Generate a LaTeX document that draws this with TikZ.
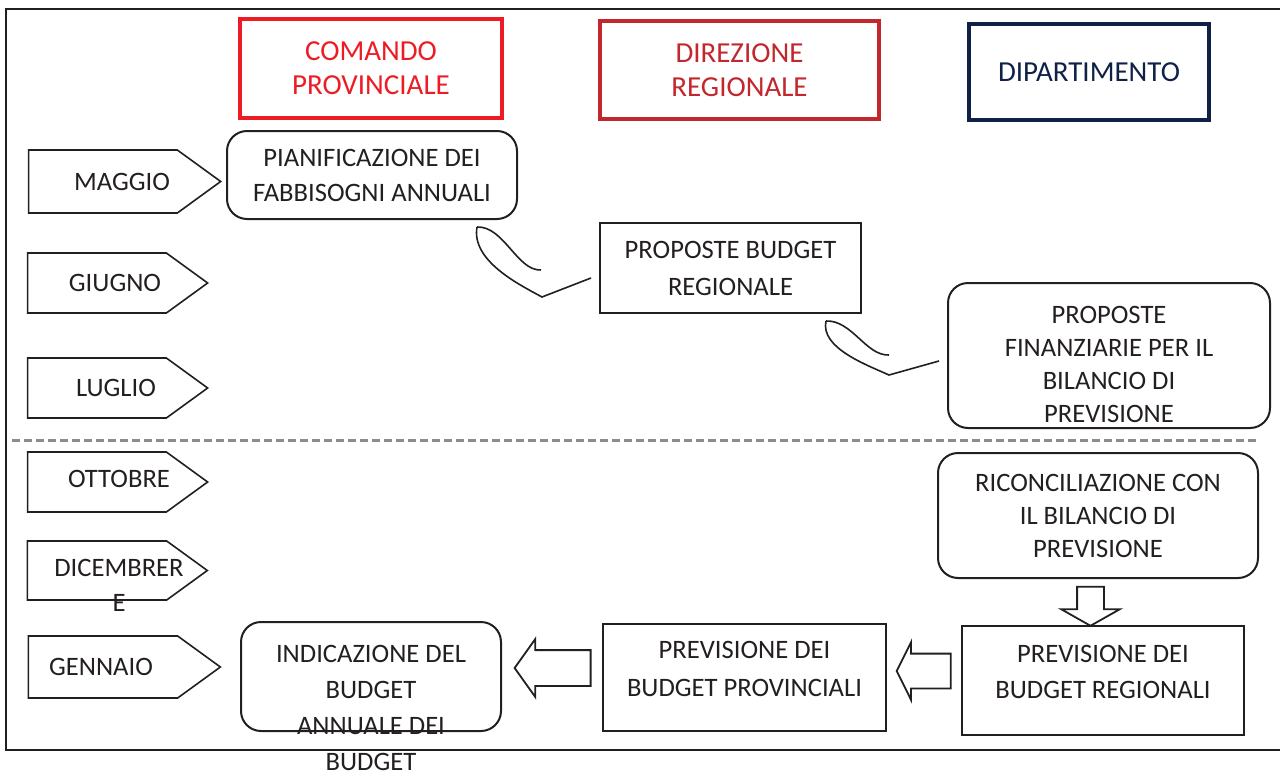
\documentclass[tikz,border=0pt]{standalone}
\usepackage{fontspec}
\setmainfont{Carlito}
\usetikzlibrary{shapes.symbols,shapes.arrows}
\definecolor{comandored}{HTML}{ED1C24}
\definecolor{direzred}{HTML}{C1272D}
\definecolor{dipblue}{HTML}{0F2147}
\definecolor{testo}{HTML}{231F20}
\definecolor{lineagrigia}{HTML}{8C8C8C}

\begin{document}
\begin{tikzpicture}[x=0.5pt,y=-0.5pt]
    \tikzset{header/.style = {draw, line width=2pt, align=center, inner sep=0pt, font=\fontsize{14.5}{17}\selectfont}}
    \tikzset{box/.style = {draw=testo, line width=1pt, text=testo, align=center, inner sep=0pt, font=\fontsize{13.3}{17.5}\selectfont}}
    \tikzset{roundbox/.style = {box, rounded corners=10pt}}
    \tikzset{boxtext/.style = {inner sep=0pt, text=testo, align=center, font=\fontsize{13.3}{17.5}\selectfont}}
    \tikzset{mese/.style = {shape=signal, signal to=east, signal pointer angle=72, draw=testo, line width=0.8pt, inner sep=0pt}}
    \tikzset{blockarrow/.style = {shape=single arrow, draw=testo, line width=0.9pt, text height=0pt, text depth=0pt}}
    \useasboundingbox (0,0) rectangle (1280,776);
    % frame and separator
    \draw[testo, line width=1.2pt] (1280,9) -- (6,9) -- (6,750) -- (1280,750);
    \draw[lineagrigia, line width=1.5pt, dash pattern=on 4pt off 2pt] (12,440) -- (1258,440);
    % headers
    \node[header, draw=comandored, text=comandored, minimum width=131pt, minimum height=49.5pt] (cp) at (371,68.5) {COMANDO\\PROVINCIALE};
    \node[header, draw=direzred, text=direzred, minimum width=139.5pt, minimum height=49pt] (dr) at (739.5,70) {DIREZIONE\\REGIONALE};
    \node[header, draw=dipblue, text=dipblue, minimum width=120pt, minimum height=48pt] (dip) at (1089,72) {DIPARTIMENTO};
    % months
    \node[mese, minimum width=96pt, minimum height=31.5pt, label={[boxtext, xshift=9.5pt]center:MAGGIO}] (mag) at (103,181.5) {};
    \node[mese, minimum width=90pt, minimum height=30pt, label={[boxtext, xshift=9pt]center:GIUGNO}] (giu) at (97,283) {};
    \node[mese, minimum width=90pt, minimum height=30pt, label={[boxtext, xshift=9.5pt]center:LUGLIO}] (lug) at (97,388) {};
    \node[mese, minimum width=90pt, minimum height=30pt, label={[boxtext, xshift=11pt, yshift=1.5pt]center:OTTOBRE}] (ott) at (97,482) {};
    \node[mese, minimum width=90pt, minimum height=29.5pt, label={[boxtext, xshift=11pt, yshift=-7.5pt]center:DICEMBRER\\E}] (dic) at (97,570.5) {};
    \node[mese, minimum width=96pt, minimum height=31pt, label={[boxtext, xshift=-1pt]center:GENNAIO}] (gen) at (103,667) {};
    % activities
    \node[roundbox, minimum width=145pt, minimum height=44pt] (pian) at (372,175) {PIANIFICAZIONE DEI\\FABBISOGNI ANNUALI};
    \node[box, minimum width=130.5pt, minimum height=45pt, font=\fontsize{13.3}{18.5}\selectfont] (propreg) at (730.5,268) {PROPOSTE BUDGET\\REGIONALE};
    \node[roundbox, minimum width=161pt, minimum height=72.5pt, label={[boxtext, yshift=-4.5pt, font=\fontsize{13.3}{16.5}\selectfont]center:PROPOSTE\\FINANZIARIE PER IL\\BILANCIO DI\\PREVISIONE}] (propfin) at (1109,355.5) {};
    \node[roundbox, minimum width=160pt, minimum height=62.5pt, font=\fontsize{13.3}{16.5}\selectfont] (ricon) at (1098,515.5) {RICONCILIAZIONE CON\\IL BILANCIO DI\\PREVISIONE};
    \node[box, minimum width=141pt, minimum height=54.5pt, label={[boxtext, yshift=4.5pt, font=\fontsize{13.3}{18}\selectfont]center:PREVISIONE DEI\\BUDGET REGIONALI}] (prevreg) at (1103,680.5) {};
    \node[box, minimum width=141.5pt, minimum height=53.5pt, label={[boxtext, yshift=4.5pt, font=\fontsize{13.3}{19}\selectfont]center:PREVISIONE DEI\\BUDGET PROVINCIALI}] (prevprov) at (744.5,677.5) {};
    \node[roundbox, minimum width=130pt, minimum height=54.5pt] (indic) at (371,676.5) {};
    \node[boxtext, anchor=north, font=\fontsize{13.3}{18}\selectfont] (indictxt) at (371,645) {INDICAZIONE DEL\\BUDGET\\ANNUALE DEI\\BUDGET};
    % block arrows
    \node[blockarrow, shape border rotate=270, minimum height=19.5pt, inner xsep=6.25pt, inner ysep=0pt, single arrow head extend=8pt, single arrow tip angle=121] (a1) at (1090.5,602.5) {};
    \node[blockarrow, shape border rotate=180, minimum height=27pt, inner xsep=0pt, inner ysep=8.25pt, single arrow head extend=5.75pt, single arrow tip angle=127] (a2) at (928,671) {};
    \node[blockarrow, shape border rotate=180, minimum height=38pt, inner xsep=0pt, inner ysep=8.5pt, single arrow head extend=5.5pt, single arrow tip angle=109] (a3) at (559,668) {};
    % curly connectors
    \coordinate (k1) at (477,227);
    \coordinate (k2) at (826,321);
    \draw[testo, line width=0.8pt] (k1) .. controls +(27,-1) and +(-24,1) .. +(64,43);
    \draw[testo, line width=0.8pt] (k1) .. controls +(-6,34) and +(-22,-12) .. +(65,70) -- +(114,51);
    \draw[testo, line width=0.8pt] (k2) .. controls +(26,-1) and +(-23,1) .. +(63,34);
    \draw[testo, line width=0.8pt] (k2) .. controls +(-6,27) and +(-22,-10) .. +(63,54) -- +(113,40);
\end{tikzpicture}
\end{document}
